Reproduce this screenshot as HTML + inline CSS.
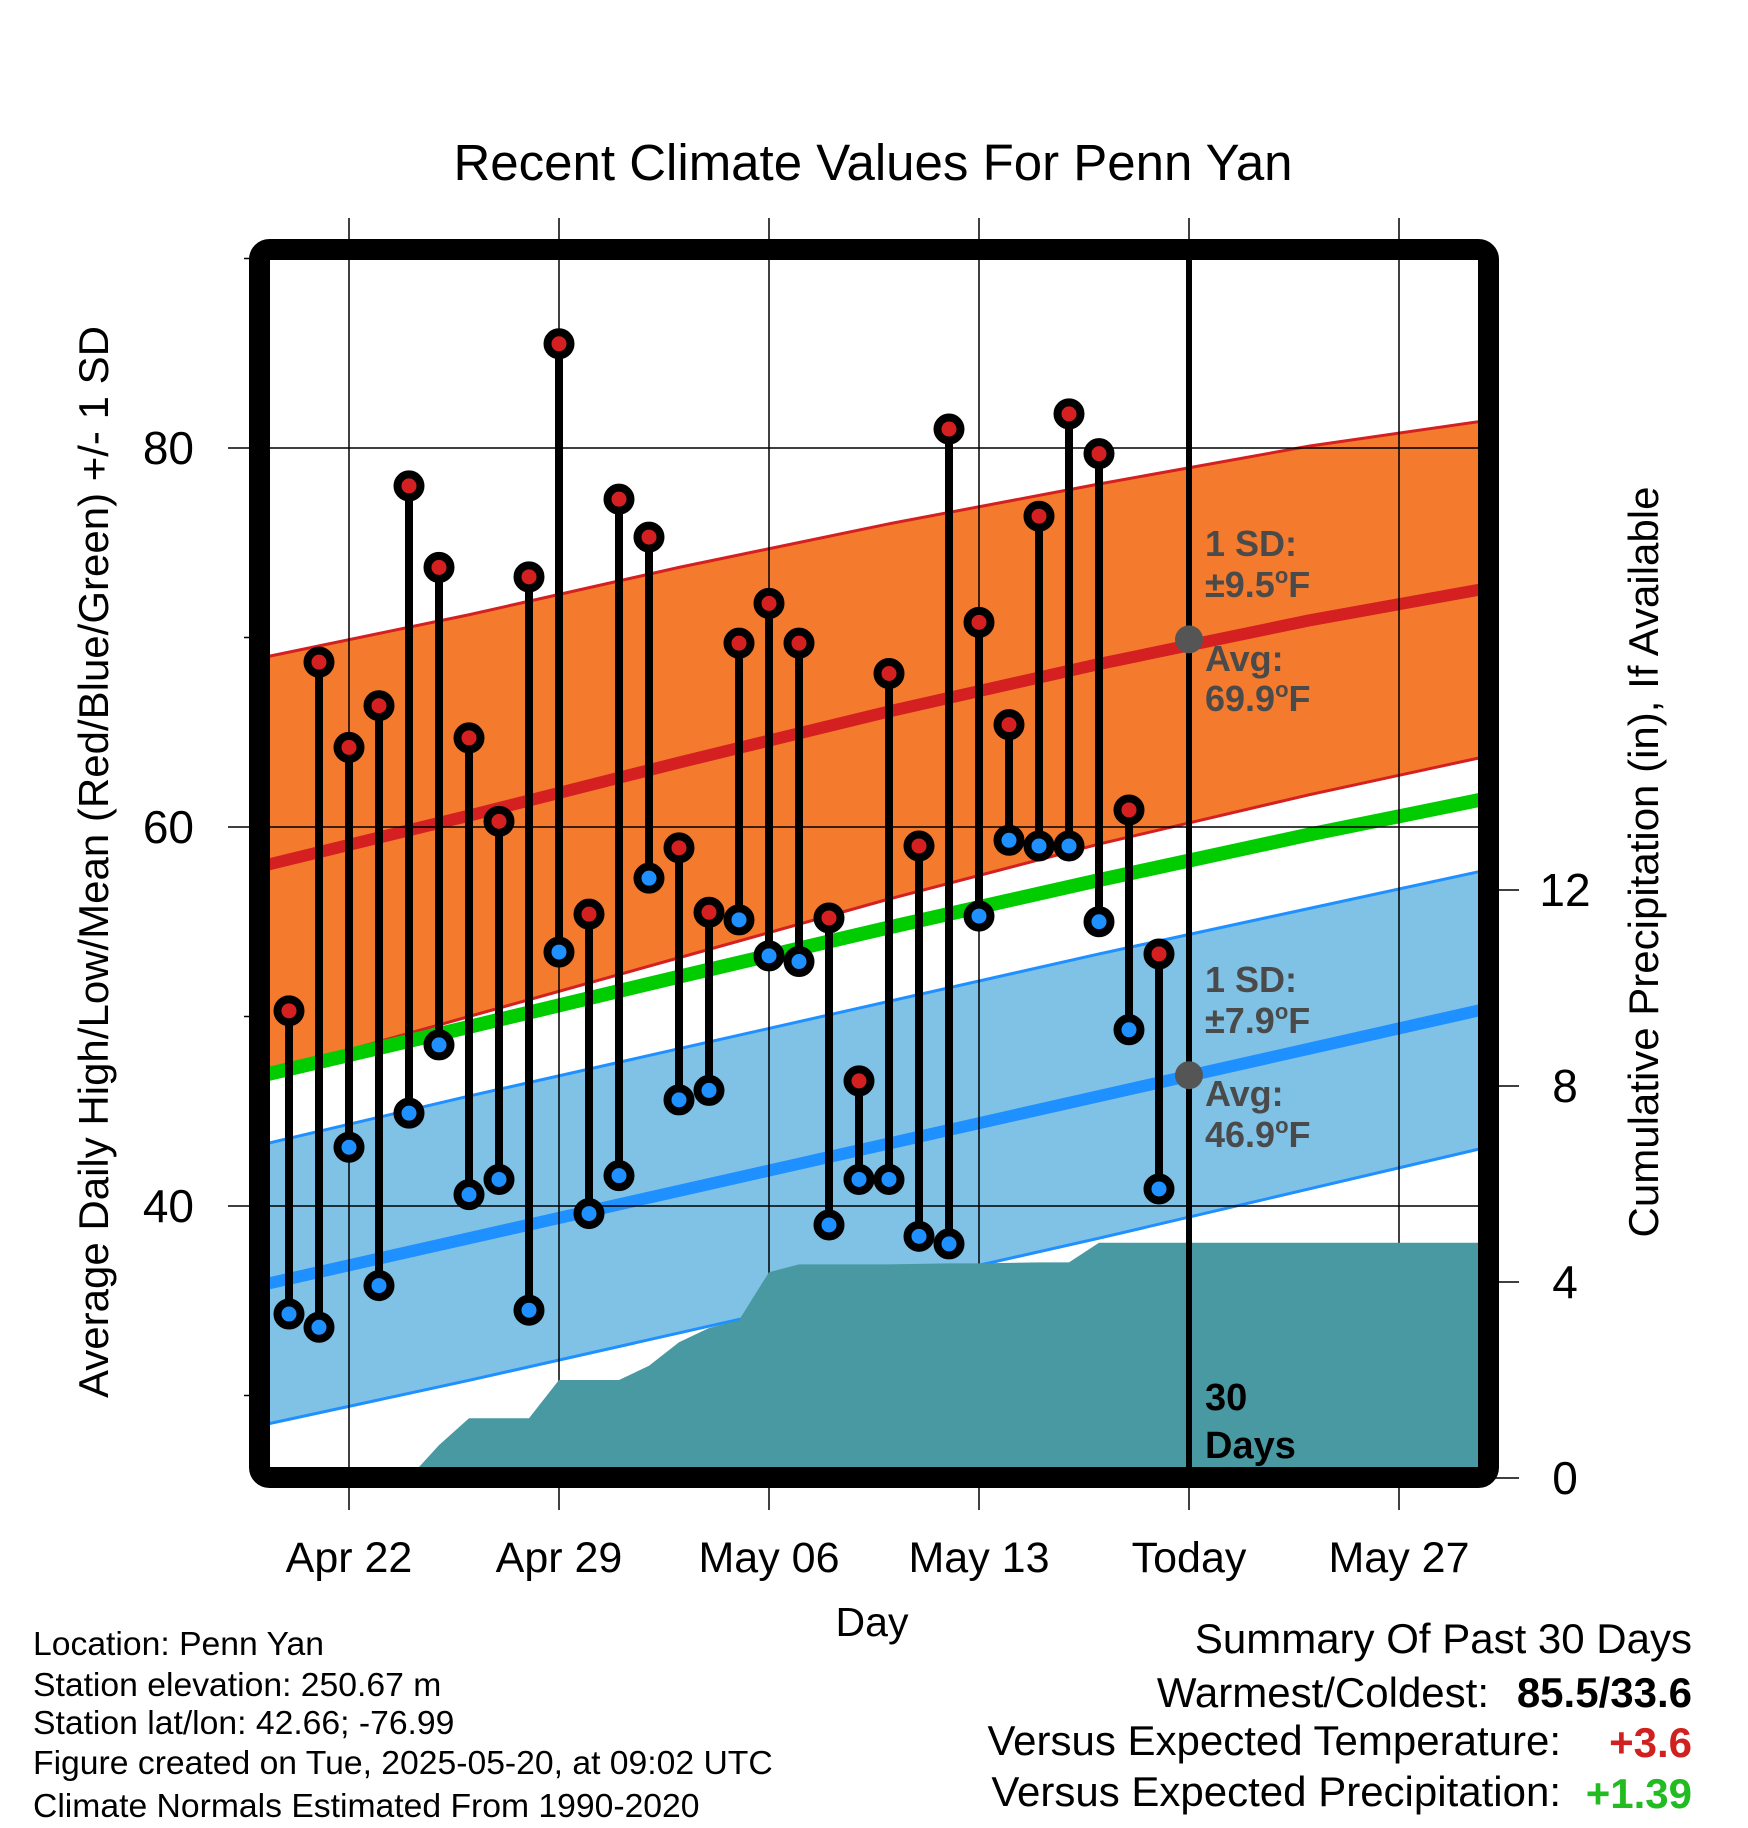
<!DOCTYPE html>
<html><head><meta charset="utf-8"><style>
html,body{margin:0;padding:0;background:#fff}
svg{display:block}
text{font-family:"Liberation Sans",Arial,sans-serif}
</style></head><body>
<svg id="chart" width="1748" height="1828" viewBox="0 0 1748 1828" xmlns="http://www.w3.org/2000/svg">
<defs><clipPath id="plotclip"><rect x="270" y="260" width="1208" height="1208"/></clipPath></defs>
<text x="873" y="180" font-size="51" text-anchor="middle">Recent Climate Values For Penn Yan</text>
<g id="bands" clip-path="url(#plotclip)"></g>
<g id="grid"></g>
<g id="precip" clip-path="url(#plotclip)"></g>
<g id="marks"></g>
<rect x="259.5" y="249.5" width="1229" height="1228" rx="10" fill="none" stroke="#000" stroke-width="21"/>
<g id="labels"></g>
<text transform="translate(108,862) rotate(-90)" font-size="42" text-anchor="middle">Average Daily High/Low/Mean (Red/Blue/Green) +/- 1 SD</text>
<text transform="translate(1658,862) rotate(-90)" font-size="42" text-anchor="middle">Cumulative Precipitation (in), If Available</text>
<text x="872" y="1636" font-size="41" text-anchor="middle">Day</text>
<g font-size="33.7">
<text x="33" y="1655">Location: Penn Yan</text>
<text x="33" y="1696">Station elevation: 250.67 m</text>
<text x="33" y="1734">Station lat/lon: 42.66; -76.99</text>
<text x="33" y="1774">Figure created on Tue, 2025-05-20, at 09:02 UTC</text>
<text x="33" y="1817">Climate Normals Estimated From 1990-2020</text>
</g>
<g font-size="42">
<text x="1692" y="1653" text-anchor="end">Summary Of Past 30 Days</text>
<text x="1489" y="1707" text-anchor="end">Warmest/Coldest:</text>
<text x="1692" y="1707" text-anchor="end" font-weight="bold">85.5/33.6</text>
<text x="1561" y="1755" text-anchor="end">Versus Expected Temperature:</text>
<text x="1692" y="1757" text-anchor="end" font-weight="bold" fill="#d02020">+3.6</text>
<text x="1561" y="1806" text-anchor="end">Versus Expected Precipitation:</text>
<text x="1692" y="1808" text-anchor="end" font-weight="bold" fill="#22bb22">+1.39</text>
</g>
</svg>
<script>
const days = ["Apr20","Apr21","Apr22","Apr23","Apr24","Apr25","Apr26","Apr27","Apr28","Apr29","Apr30","May01","May02","May03","May04","May05","May06","May07","May08","May09","May10","May11","May12","May13","May14","May15","May16","May17","May18","May19"];
const highs = [50.3,68.7,64.2,66.4,78.0,73.7,64.7,60.3,73.2,85.5,55.4,77.3,75.3,58.9,55.5,69.7,71.8,69.7,55.2,46.6,68.1,59.0,81.0,70.8,65.4,76.4,81.8,79.7,60.9,53.3];
const lows = [34.3,33.6,43.1,35.8,44.9,48.5,40.6,41.4,34.5,53.4,39.6,41.6,57.3,45.6,46.1,55.1,53.2,52.9,39.0,41.4,41.4,38.4,38.0,55.3,59.3,59.0,59.0,55.0,49.3,40.9];
const precip = [0,0,0,0,0,0.67,1.22,1.22,1.22,2.0,2.0,2.0,2.29,2.77,3.06,3.22,4.2,4.36,4.36,4.36,4.36,4.37,4.38,4.38,4.39,4.4,4.4,4.8,4.8,4.8];
const normDays = [-1,6,13,20,27,34,41];
const normHigh = [57.9,60.6,63.4,66.1,68.6,70.9,72.9];
const normHighSD = [11.0,10.6,10.3,9.9,9.5,9.2,8.8];
const normLow = [35.8,38.3,40.8,43.3,45.8,48.3,50.8];
const normLowSD = [7.4,7.5,7.5,7.5,7.5,7.4,7.3];
const tempTicks = [40,60,80];
const tempMinor = [30,50,70,90];
const precipTicks = [0,4,8,12];
const xTickDays = [2,9,16,23,30,37];
const xTickLabels = ["Apr 22","Apr 29","May 06","May 13","Today","May 27"];
const todayIndex = 30;
const todayHigh = 69.9, todayLow = 46.9;

const NS="http://www.w3.org/2000/svg";
let e;
const X = i => 289 + 30*i;
const YT = t => 448 + (80-t)*18.95;
const YP = p => 1478 - p*49;
function mk(tag, attrs, parent){const el=document.createElementNS(NS,tag);for(const k in attrs)el.setAttribute(k,attrs[k]);parent.appendChild(el);return el;}
const bands=document.getElementById('bands'),grid=document.getElementById('grid'),pg=document.getElementById('precip'),marks=document.getElementById('marks'),labels=document.getElementById('labels');

function band(mean,sd,fill,edge,name){
  const top=normDays.map((d,k)=>X(d)+','+YT(mean[k]+sd[k]));
  const bot=normDays.map((d,k)=>X(d)+','+YT(mean[k]-sd[k])).reverse();
  e=mk('polygon',{points:top.concat(bot).join(' '),fill:fill},bands);
  
  
  e=mk('polyline',{points:top.join(' '),fill:'none',stroke:edge,'stroke-width':3},bands);
  
  
  e=mk('polyline',{points:bot.join(' '),fill:'none',stroke:edge,'stroke-width':3},bands);
  
  
}
band(normHigh,normHighSD,'#f47a2e','#d42020','high');
band(normLow,normLowSD,'#80c1e6','#1e90ff','low');
e=mk('polyline',{points:normDays.map((d,k)=>X(d)+','+YT((normHigh[k]+normLow[k])/2)).join(' '),fill:'none',stroke:'#00cc00','stroke-width':14},bands);


e=mk('polyline',{points:normDays.map((d,k)=>X(d)+','+YT(normHigh[k])).join(' '),fill:'none',stroke:'#d42020','stroke-width':12},bands);


e=mk('polyline',{points:normDays.map((d,k)=>X(d)+','+YT(normLow[k])).join(' '),fill:'none',stroke:'#1e90ff','stroke-width':12},bands);



tempTicks.forEach(t=>{
  e=mk('line',{x1:228,x2:1478,y1:YT(t),y2:YT(t),stroke:'#000','stroke-width':1.5},grid);
  
  
  e=mk('text',{x:194,y:YT(t)+16,'font-size':46,'text-anchor':'end'},labels);e.textContent=t;
  
  
});
tempMinor.forEach(t=>{
  e=mk('line',{x1:244,x2:252,y1:YT(t),y2:YT(t),stroke:'#000','stroke-width':1.5},grid);
  
  
});
precipTicks.forEach(p=>{
  e=mk('line',{x1:1495,x2:1519,y1:YP(p),y2:YP(p),stroke:'#000','stroke-width':1.5},grid);
  
  
  e=mk('text',{x:1565,y:YP(p)+16,'font-size':46,'text-anchor':'middle'},labels);e.textContent=p;
  
  
});
xTickDays.forEach((d,k)=>{
  e=mk('line',{x1:X(d),x2:X(d),y1:218,y2:1510,stroke:'#000','stroke-width':1.5},grid);
  
  
  e=mk('text',{x:X(d),y:1572,'font-size':43,'text-anchor':'middle'},labels);e.textContent=xTickLabels[k];
  
  
});

let pts=[X(4)+','+YP(0)];
for(let i=4;i<precip.length;i++)pts.push(X(i)+','+YP(precip[i]));
pts.push('1480,'+YP(precip[precip.length-1]));pts.push('1480,1480');pts.push(X(4)+',1480');
e=mk('polygon',{points:pts.join(' '),fill:'#4899a2'},pg);



e=mk('line',{x1:X(todayIndex),x2:X(todayIndex),y1:260,y2:1468,stroke:'#000','stroke-width':6},marks);


e=mk('circle',{cx:X(todayIndex),cy:YT(todayHigh),r:14,fill:'#555'},marks);


e=mk('circle',{cx:X(todayIndex),cy:YT(todayLow),r:14,fill:'#555'},marks);



highs.forEach((h,i)=>{
  e=mk('line',{x1:X(i),x2:X(i),y1:YT(h),y2:YT(lows[i]),stroke:'#000','stroke-width':8},marks);
  
  
});
highs.forEach((h,i)=>{
  e=mk('circle',{cx:X(i),cy:YT(h),r:11.5,fill:'#d42020',stroke:'#000','stroke-width':8},marks);
  
  
  e=mk('circle',{cx:X(i),cy:YT(lows[i]),r:11.5,fill:'#1e90ff',stroke:'#000','stroke-width':8},marks);
  
  
});

function ann(txt,y,name,fill,size){e=mk('text',{x:1205,y:y,'font-size':size||36,'font-weight':'bold',fill:fill||'#4a4a4a'},labels);e.textContent=txt;

}
function annDeg(num,y,name){
  e=mk('text',{x:1205,y:y,'font-size':36,'font-weight':'bold',fill:'#4a4a4a'},labels);
  
  
  const a=mk('tspan',{},e);a.textContent=num;
  const b=mk('tspan',{'font-size':22,dy:-14},e);b.textContent='o';
  const c=mk('tspan',{dy:14},e);c.textContent='F';
}
ann('1 SD:',556,'high-sd-label');annDeg('±9.5',597,'high-sd-value');
ann('Avg:',671,'high-avg-label');annDeg('69.9',711,'high-avg-value');
ann('1 SD:',992,'low-sd-label');annDeg('±7.9',1033,'low-sd-value');
ann('Avg:',1106,'low-avg-label');annDeg('46.9',1147,'low-avg-value');
ann('30',1410,'days-count-label','#000',38);ann('Days',1458,'days-word-label','#000',38);
</script>
</body></html>
